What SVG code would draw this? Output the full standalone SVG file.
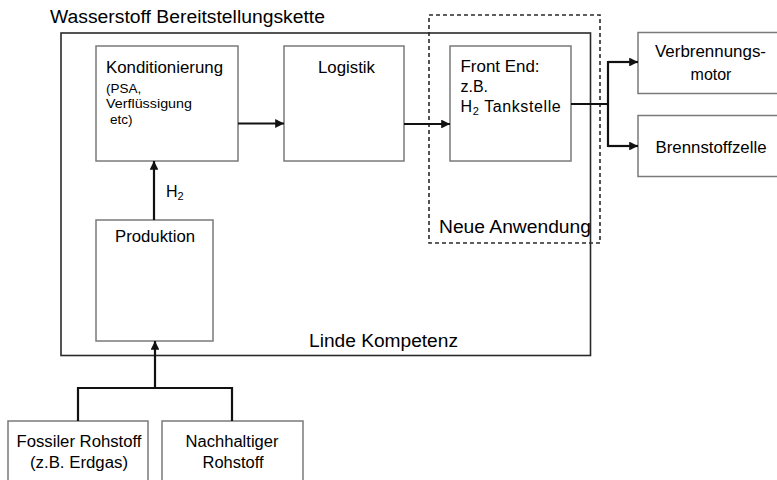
<svg xmlns="http://www.w3.org/2000/svg" width="777" height="480" viewBox="0 0 777 480">
  <defs>
    <style>
      text { font-family: "Liberation Sans", Arial, sans-serif; fill: #000; }
      .box { fill: #fff; stroke: #7a7a7a; stroke-width: 1.5; }
      .frame { fill: none; stroke: #2a2a2a; stroke-width: 1.6; }
      .dash { fill: none; stroke: #2a2a2a; stroke-width: 1.6; stroke-dasharray: 4 3; }
      .wire { fill: none; stroke: #111; stroke-width: 2.2; }
      .lbl { font-size: 16px; }
      .sm { font-size: 13.5px; }
      .big { font-size: 18px; }
    </style>
    <marker id="arrow" viewBox="0 0 10 10" refX="10" refY="5" markerWidth="4" markerHeight="4" orient="auto" markerUnits="strokeWidth">
      <path d="M0,0 L10,5 L0,10 z" fill="#111"/>
    </marker>
  </defs>

  <rect width="777" height="480" fill="#fff"/>

  <!-- supply chain frame -->
  <g id="chain">
    <text class="big" x="50" y="23" textLength="275" lengthAdjust="spacingAndGlyphs">Wasserstoff Bereitstellungskette</text>
    <rect class="frame" x="61" y="33" width="529.5" height="322.5"/>
    <text class="big" x="309" y="347" textLength="149" lengthAdjust="spacingAndGlyphs">Linde Kompetenz</text>
  </g>

  <!-- new application region -->
  <g id="neue-anwendung">
    <rect class="dash" x="429" y="15" width="171" height="228"/>
    <text class="big" x="439" y="233" textLength="152" lengthAdjust="spacingAndGlyphs">Neue Anwendung</text>
  </g>

  <g id="konditionierung">
    <rect class="box" x="96" y="46" width="142" height="115"/>
    <text class="lbl" x="106" y="72.5" textLength="117" lengthAdjust="spacingAndGlyphs">Konditionierung</text>
    <text class="sm" x="106" y="92.5">(PSA,</text>
    <text class="sm" x="106" y="107.5" textLength="86" lengthAdjust="spacingAndGlyphs">Verflüssigung</text>
    <text class="sm" x="110" y="124">etc)</text>
  </g>

  <g id="logistik">
    <rect class="box" x="284" y="46" width="120" height="115"/>
    <text class="lbl" x="346.5" y="72.5" text-anchor="middle" textLength="57" lengthAdjust="spacingAndGlyphs">Logistik</text>
  </g>

  <g id="front-end">
    <rect class="box" x="450" y="46" width="121" height="115"/>
    <text class="lbl" x="460.5" y="72" textLength="79" lengthAdjust="spacingAndGlyphs">Front End:</text>
    <text class="lbl" x="460.5" y="92">z.B.</text>
    <text class="lbl" x="460.5" y="112" letter-spacing="0.6">H<tspan font-size="11" dy="3">2</tspan><tspan dy="-3"> Tankstelle</tspan></text>
  </g>

  <g id="produktion">
    <rect class="box" x="96" y="220" width="117" height="121"/>
    <text class="lbl" x="155" y="241.5" text-anchor="middle" textLength="80" lengthAdjust="spacingAndGlyphs">Produktion</text>
  </g>

  <g id="verbrennungsmotor">
    <rect class="box" x="638" y="32.5" width="150" height="61"/>
    <text class="lbl" x="710.5" y="57" text-anchor="middle" textLength="111" lengthAdjust="spacingAndGlyphs">Verbrennungs-</text>
    <text class="lbl" x="711" y="80" text-anchor="middle">motor</text>
  </g>

  <g id="brennstoffzelle">
    <rect class="box" x="638" y="115.5" width="150" height="61"/>
    <text class="lbl" x="711" y="152.5" text-anchor="middle" textLength="111" lengthAdjust="spacingAndGlyphs">Brennstoffzelle</text>
  </g>

  <g id="fossiler-rohstoff">
    <rect class="box" x="8" y="421" width="140" height="70"/>
    <text class="lbl" x="79" y="446.5" text-anchor="middle" textLength="125" lengthAdjust="spacingAndGlyphs">Fossiler Rohstoff</text>
    <text class="lbl" x="79" y="468" text-anchor="middle" textLength="98" lengthAdjust="spacingAndGlyphs">(z.B. Erdgas)</text>
  </g>

  <g id="nachhaltiger-rohstoff">
    <rect class="box" x="162" y="421" width="141" height="70"/>
    <text class="lbl" x="232" y="446.5" text-anchor="middle" textLength="93" lengthAdjust="spacingAndGlyphs">Nachhaltiger</text>
    <text class="lbl" x="233" y="468" text-anchor="middle" textLength="61" lengthAdjust="spacingAndGlyphs">Rohstoff</text>
  </g>

  <!-- connectors -->
  <g id="connectors">
    <line class="wire" x1="238" y1="123.5" x2="284" y2="123.5" marker-end="url(#arrow)"/>
    <line class="wire" x1="404" y1="124" x2="450" y2="124" marker-end="url(#arrow)"/>
    <polyline class="wire" points="571,104 608,104"/>
    <polyline class="wire" points="638,62 608,62 608,146 638,146"/>
    <line class="wire" x1="608" y1="62" x2="638" y2="62" marker-end="url(#arrow)"/>
    <line class="wire" x1="608" y1="146" x2="638" y2="146" marker-end="url(#arrow)"/>
    <line class="wire" x1="154" y1="220" x2="154" y2="161" marker-end="url(#arrow)"/>
    <text class="lbl" x="166" y="197">H<tspan font-size="11" dy="3">2</tspan></text>
    <polyline class="wire" points="78,421 78,388 232,388 232,421"/>
    <line class="wire" x1="155" y1="388" x2="155" y2="341" marker-end="url(#arrow)"/>
  </g>
</svg>
